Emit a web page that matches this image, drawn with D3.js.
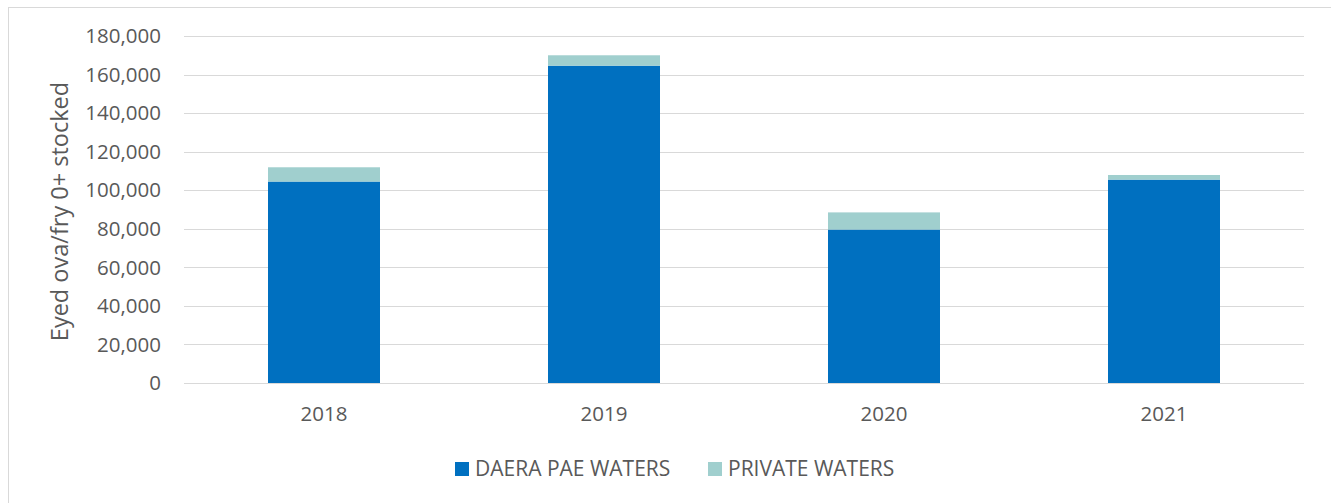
<!DOCTYPE html>
<html>
<head>
<meta charset="utf-8">
<script src="https://cdn.jsdelivr.net/npm/d3@7"></script>
<style>
  body { margin: 0; background: #fff; }
  text { font-family: "Open Sans", "Noto Sans", sans-serif; fill: #595959; }
</style>
</head>
<body>
<svg id="chart" width="1331" height="503"></svg>
<script>
const years = ["2018", "2019", "2020", "2021"];
const daeraValues = [104500, 164600, 79600, 105500];
const privateValues = [7400, 5400, 8900, 2400];
const yTicks = [0, 20000, 40000, 60000, 80000, 100000, 120000, 140000, 160000, 180000];
const seriesNames = ["DAERA PAE WATERS", "PRIVATE WATERS"];
const seriesColors = ["#0070C0", "#A0CFCE"];

const svg = d3.select("#chart");
const W = 1331, H = 503;

// outer chart border (right and bottom edges fall outside the picture)
svg.append("rect")
  .attr("x", 8.5).attr("y", 7.5)
  .attr("width", W).attr("height", H)
  .attr("fill", "none")
  .attr("stroke", "#D9D9D9");

const plotLeft = 184, plotRight = 1304, plotTop = 36, plotBottom = 383;

const x = d3.scaleBand().domain(years).range([plotLeft, plotRight]).paddingInner(0.6).paddingOuter(0.3);
const y = d3.scaleLinear().domain([0, 180000]).range([plotBottom, plotTop]);

// gridlines
svg.append("g")
  .selectAll("line")
  .data(yTicks)
  .join("line")
  .attr("x1", plotLeft).attr("x2", plotRight)
  .attr("y1", d => Math.round(y(d)) + 0.5)
  .attr("y2", d => Math.round(y(d)) + 0.5)
  .attr("stroke", "#D9D9D9")
  .attr("stroke-width", 1);

// y tick labels
svg.append("g")
  .selectAll("text")
  .data(yTicks)
  .join("text")
  .attr("x", 161)
  .attr("y", d => y(d))
  .attr("dy", "0.35em")
  .attr("text-anchor", "end")
  .attr("font-size", 20.5)
  .text(d => d3.format(",")(d));

// stacked bars
const rows = years.map((yr, i) => ({ year: yr, daera: daeraValues[i], priv: privateValues[i] }));
const stack = d3.stack().keys(["daera", "priv"])(rows);

svg.append("g")
  .selectAll("g")
  .data(stack)
  .join("g")
  .attr("fill", (d, i) => seriesColors[i])
  .selectAll("rect")
  .data(d => d)
  .join("rect")
  .attr("x", d => x(d.data.year))
  .attr("width", x.bandwidth())
  .attr("y", d => y(d[1]))
  .attr("height", d => y(d[0]) - y(d[1]));

// x labels
svg.append("g")
  .selectAll("text")
  .data(years)
  .join("text")
  .attr("x", d => x(d) + x.bandwidth() / 2)
  .attr("y", 414)
  .attr("dy", "0.35em")
  .attr("text-anchor", "middle")
  .attr("font-size", 20.5)
  .text(d => d);

// y title
svg.append("text")
  .attr("transform", `translate(60, ${(plotTop + plotBottom) / 2 + 2}) rotate(-90)`)
  .attr("text-anchor", "middle")
  .attr("dy", "0.35em")
  .attr("font-size", 23.5)
  .text("Eyed ova/fry 0+ stocked");

// legend
const legendX = [455, 708];
const legend = svg.append("g")
  .selectAll("g")
  .data(seriesNames)
  .join("g")
  .attr("transform", (d, i) => `translate(${legendX[i]}, 462)`);

legend.append("rect")
  .attr("width", 14).attr("height", 14)
  .attr("fill", (d, i) => seriesColors[i]);

legend.append("text")
  .attr("x", 20)
  .attr("y", 7)
  .attr("dy", "0.35em")
  .attr("font-size", 21)
  .text(d => d);
</script>
</body>
</html>
